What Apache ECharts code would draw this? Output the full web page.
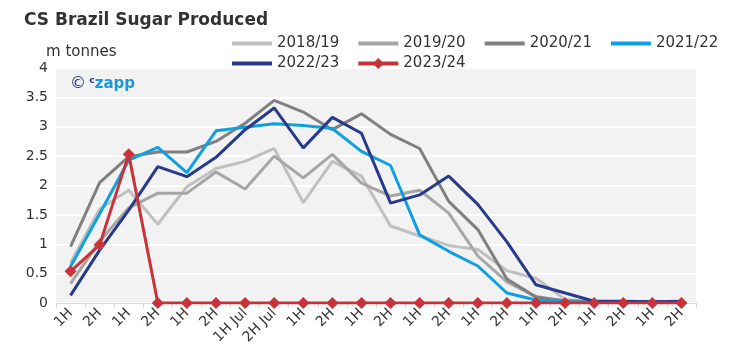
<!DOCTYPE html>
<html><head><meta charset="utf-8">
<script src="https://cdn.jsdelivr.net/npm/echarts@6/dist/echarts.min.js"></script>
<style>html,body{margin:0;padding:0;background:#fff}#c{width:736px;height:358px}</style>
</head><body><div id="c"></div>
<script>
const categories = ["1H","2H","1H","2H","1H","2H","1H Jul","2H Jul","1H","2H","1H","2H","1H","2H","1H","2H","1H","2H","1H","2H","1H","2H"];
const yTicks = [0,0.5,1,1.5,2,2.5,3,3.5,4];
const s2018 = [0.68,1.6,1.92,1.34,1.98,2.29,2.41,2.63,1.71,2.41,2.16,1.31,1.14,0.98,0.91,0.55,0.42,0.06,0.02,0.02,0.02,0.02];
const s2019 = [0.33,1.05,1.62,1.87,1.87,2.23,1.94,2.5,2.13,2.53,2.04,1.82,1.92,1.53,0.8,0.36,0.11,0.03,0.02,0.02,0.02,0.02];
const s2020 = [0.96,2.05,2.49,2.57,2.57,2.75,3.06,3.45,3.25,2.95,3.22,2.87,2.63,1.73,1.25,0.41,0.1,0.04,0.02,0.02,0.02,0.02];
const s2021 = [0.62,1.52,2.43,2.65,2.22,2.93,2.99,3.05,3.02,2.97,2.58,2.34,1.16,0.88,0.63,0.17,0.05,0.02,0.01,0.01,0.01,0.01];
const s2022 = [0.13,0.9,1.58,2.32,2.15,2.48,2.95,3.32,2.64,3.16,2.89,1.7,1.84,2.16,1.68,1.04,0.31,0.17,0.03,0.03,0.02,0.03];
const s2023 = [0.54,0.99,2.53,0,0,0,0,0,0,0,0,0,0,0,0,0,0,0,0,0,0,0];
const names = ["2018/19","2019/20","2020/21","2021/22","2022/23","2023/24"];
const colors = ["#c0c0c0","#a6a6a6","#808080","#0ea0e0","#283a8a","#c8333a"];
const FONT = "DejaVu Sans";

function lineSeries(i, data){
  return {name: names[i], type:'line', data: data, symbol:'none', showSymbol:false,
    lineStyle:{width:3, color:colors[i]}, itemStyle:{color:colors[i]}, z: 2+i, animation:false};
}
const legendText = {fontFamily:FONT, fontSize:15, color:'#333'};
const chart = echarts.init(document.getElementById('c'));
chart.setOption({
  animation:false,
  title:{text:'CS Brazil Sugar Produced', left:24, top:12, padding:0,
    textStyle:{fontFamily:FONT, fontSize:17, fontWeight:'bold', color:'#333'}},
  legend:[
    {data:names.slice(0,4).map(n=>({name:n, itemStyle:{opacity:0}})), left:230, top:36, padding:0,
     itemWidth:40, itemHeight:14, itemGap:17, lineStyle:{width:4}, textStyle:legendText},
    {data:[{name:names[4], itemStyle:{opacity:0}}, {name:names[5]}], left:230, top:56, padding:0,
     itemWidth:40, itemHeight:14, itemGap:17, lineStyle:{width:4}, textStyle:legendText}
  ],
  graphic:[
    {type:'text', left:46, top:45, style:{text:'m tonnes', font:'15px "DejaVu Sans"', fill:'#333'}},
    {type:'text', left:70, top:76, z:100, style:{
      text:'{sa|©} {sb|c}{sz|zapp}',
      rich:{
        sa:{fontFamily:FONT, fontSize:16, fill:'#2e3a87'},
        sb:{fontFamily:FONT, fontSize:9, fontWeight:'bold', fill:'#2e3a87', verticalAlign:'top'},
        sz:{fontFamily:FONT, fontSize:15, fontWeight:'bold', fill:'#1a9ad6'}
      }}}
  ],
  grid:{left:56, right:40, top:68, bottom:55, show:true, backgroundColor:'#f2f2f2', borderWidth:0},
  xAxis:{type:'category', data:categories, boundaryGap:true,
    axisLine:{lineStyle:{color:'#d9d9d9', width:1}},
    axisTick:{show:true, length:5, lineStyle:{color:'#d9d9d9'}},
    axisLabel:{interval:0, rotate:45, fontFamily:FONT, fontSize:14, color:'#333', margin:8},
    splitLine:{show:false}},
  yAxis:{type:'value', min:yTicks[0], max:yTicks[yTicks.length-1], interval:0.5,
    axisLine:{show:false}, axisTick:{show:false},
    axisLabel:{fontFamily:FONT, fontSize:14, color:'#333', margin:8},
    splitLine:{lineStyle:{color:'#ffffff', width:2}}},
  series:[
    lineSeries(0,s2018), lineSeries(1,s2019), lineSeries(2,s2020), lineSeries(3,s2021), lineSeries(4,s2022),
    {name:names[5], type:'line', data:s2023, symbol:'diamond', symbolSize:12, showSymbol:true,
     lineStyle:{width:3, color:colors[5]}, itemStyle:{color:colors[5]}, z:10, animation:false}
  ]
});
</script></body></html>
